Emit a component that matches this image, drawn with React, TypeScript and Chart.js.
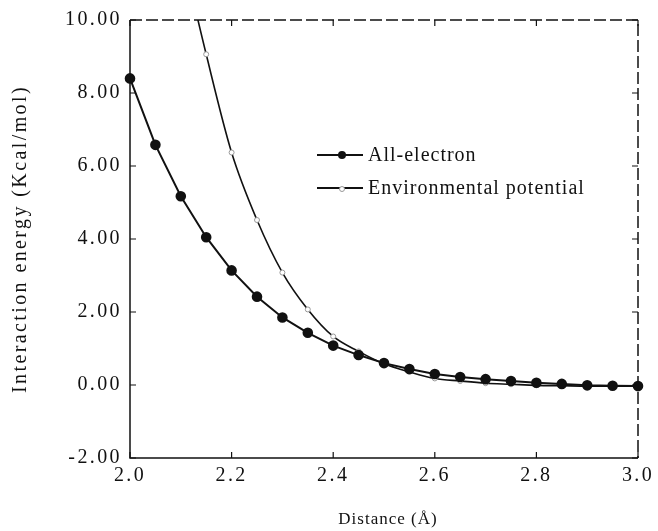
import React, { useEffect, useRef } from "react";
import { Chart, registerables } from "chart.js";

Chart.register(...registerables);

const distances = [2.0, 2.05, 2.1, 2.15, 2.2, 2.25, 2.3, 2.35, 2.4, 2.45, 2.5, 2.55, 2.6, 2.65, 2.7, 2.75, 2.8, 2.85, 2.9, 2.95, 3.0];
const allElectron = [8.4, 6.58, 5.17, 4.05, 3.14, 2.42, 1.85, 1.43, 1.08, 0.82, 0.6, 0.44, 0.3, 0.22, 0.16, 0.11, 0.06, 0.03, -0.01, -0.02, -0.03];
const envPotential = [null, null, 12.0, 9.06, 6.37, 4.52, 3.08, 2.07, 1.33, 0.92, 0.58, 0.36, 0.18, 0.11, 0.05, 0.02, -0.01, -0.02, -0.03, -0.03, -0.03];
const seriesNames = ["All-electron", "Environmental potential"];
const xTicks = [2.0, 2.2, 2.4, 2.6, 2.8, 3.0];
const yTicks = [-2, 0, 2, 4, 6, 8, 10];
const xTitle = "Distance (Å)";
const yTitle = "Interaction energy (Kcal/mol)";

const FONT = "'Liberation Serif', 'Times New Roman', serif";
const INK = "#111";

const framePlugin = {
  id: "frame",
  beforeDraw(chart: any) {
    const ctx = chart.ctx;
    ctx.fillStyle = "#fff";
    ctx.fillRect(0, 0, chart.width, chart.height);
    (ctx as any).letterSpacing = "2.4px";
  },
  afterDraw(chart: any) {
    const ctx = chart.ctx;
    const { left, right, top, bottom } = chart.chartArea;
    const xs = chart.scales.x;
    const ys = chart.scales.y;
    ctx.save();
    ctx.strokeStyle = INK;
    ctx.lineWidth = 1.5;
    ctx.beginPath();
    ctx.moveTo(left, top);
    ctx.lineTo(left, bottom);
    ctx.lineTo(right, bottom);
    ctx.stroke();
    ctx.setLineDash([12, 4]);
    ctx.beginPath();
    ctx.moveTo(left, top);
    ctx.lineTo(right, top);
    ctx.lineTo(right, bottom);
    ctx.stroke();
    ctx.setLineDash([]);
    ctx.lineWidth = 1.2;
    const tl = 6;
    ctx.beginPath();
    for (const v of xTicks) {
      const px = xs.getPixelForValue(v);
      ctx.moveTo(px, bottom);
      ctx.lineTo(px, bottom - tl);
      ctx.moveTo(px, top);
      ctx.lineTo(px, top + tl);
    }
    for (const v of yTicks) {
      const py = ys.getPixelForValue(v);
      ctx.moveTo(left, py);
      ctx.lineTo(left + tl, py);
      ctx.moveTo(right, py);
      ctx.lineTo(right - tl, py);
    }
    ctx.stroke();

    // x-axis title
    ctx.font = `17px ${FONT}`;
    ctx.fillStyle = INK;
    ctx.textAlign = "center";
    ctx.textBaseline = "middle";
    (ctx as any).letterSpacing = "1px";
    ctx.fillText(xTitle, (left + right) / 2 + 4, 520);

    // legend inside plot
    const lx0 = 317;
    const lx1 = 363;
    const rows = [155, 188];
    ctx.font = `20px ${FONT}`;
    ctx.textAlign = "left";
    rows.forEach((ry, i) => {
      ctx.strokeStyle = INK;
      ctx.lineWidth = 1.8;
      ctx.beginPath();
      ctx.moveTo(lx0, ry);
      ctx.lineTo(lx1, ry);
      ctx.stroke();
      const mx = (lx0 + lx1) / 2 + 2;
      if (i === 0) {
        ctx.beginPath();
        ctx.arc(mx, ry, 4, 0, Math.PI * 2);
        ctx.fillStyle = INK;
        ctx.fill();
      } else {
        ctx.beginPath();
        ctx.arc(mx, ry + 1, 2.5, 0, Math.PI * 2);
        ctx.fillStyle = "#fff";
        ctx.fill();
        ctx.strokeStyle = "#999";
        ctx.lineWidth = 1;
        ctx.stroke();
      }
      ctx.fillStyle = INK;
      ctx.fillText(seriesNames[i], lx1 + 5, ry + 1);
    });
    ctx.restore();
  },
};

export default function App() {
  const ref = useRef<HTMLCanvasElement | null>(null);
  useEffect(() => {
    if (!ref.current) return;
    const chart = new Chart(ref.current, {
      type: "line",
      data: {
        labels: distances,
        datasets: [
          {
            label: seriesNames[0],
            data: distances.map((x, i) => ({ x, y: allElectron[i] })),
            borderColor: INK,
            backgroundColor: INK,
            borderWidth: 2,
            pointRadius: 4.3,
            pointBackgroundColor: INK,
            pointBorderColor: INK,
            tension: 0,
            clip: false as any,
          },
          {
            label: seriesNames[1],
            data: distances.map((x, i) => ({ x, y: envPotential[i] as any })),
            borderColor: INK,
            backgroundColor: "#fff",
            borderWidth: 1.6,
            pointRadius: 2.5,
            pointBackgroundColor: "#fff",
            pointBorderColor: "#999",
            pointBorderWidth: 1,
            cubicInterpolationMode: "monotone",
            spanGaps: false,
          },
        ],
      },
      options: {
        animation: false,
        responsive: false,
        maintainAspectRatio: false,
        layout: { padding: { top: 18, right: 20, bottom: 0, left: 0 } },
        plugins: { legend: { display: false }, tooltip: { enabled: false } },
        scales: {
          x: {
            type: "linear",
            min: 2.0,
            max: 3.0,
            grid: { display: false, drawTicks: false },
            border: { display: false },
            afterBuildTicks: (s: any) => {
              s.ticks = xTicks.map((v) => ({ value: v }));
            },
            afterFit: (s: any) => {
              s.height = 73;
            },
            ticks: {
              padding: 6,
              color: INK,
              font: { family: FONT, size: 20 },
              callback: (v: any) => Number(v).toFixed(1),
            },
            title: { display: false },
          },
          y: {
            type: "linear",
            min: -2,
            max: 10,
            grid: { display: false, drawTicks: false },
            border: { display: false },
            afterBuildTicks: (s: any) => {
              s.ticks = yTicks.map((v) => ({ value: v }));
            },
            afterFit: (s: any) => {
              s.width = 130;
            },
            ticks: {
              padding: 8,
              color: INK,
              font: { family: FONT, size: 20 },
              callback: (v: any) => Number(v).toFixed(2),
            },
            title: {
              display: true,
              text: yTitle,
              color: INK,
              font: { family: FONT, size: 20 },
              padding: { top: 9, bottom: 0 },
            },
          },
        },
      },
      plugins: [framePlugin],
    } as any);
    return () => chart.destroy();
  }, []);
  return (
    <div style={{ position: "fixed", left: 0, top: 0, width: 658, height: 531, background: "#fff" }}>
      <canvas ref={ref} width={658} height={531} style={{ display: "block", width: 658, height: 531 }} />
    </div>
  );
}
